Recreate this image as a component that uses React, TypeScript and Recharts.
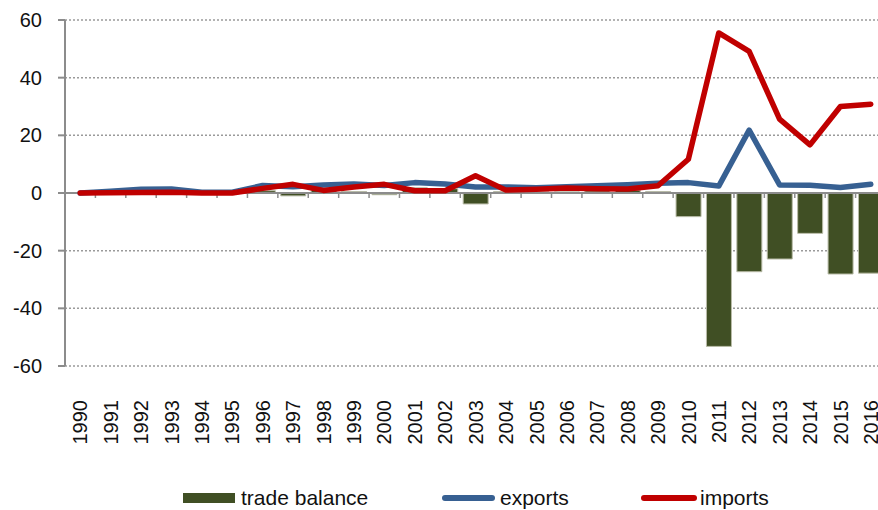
import React from "react";
import {
  ComposedChart,
  Bar,
  Line,
  XAxis,
  YAxis,
  CartesianGrid,
  ReferenceLine,
  Legend,
} from "recharts";

// years on the category axis
const years = [
  "1990", "1991", "1992", "1993", "1994", "1995", "1996", "1997", "1998",
  "1999", "2000", "2001", "2002", "2003", "2004", "2005", "2006", "2007",
  "2008", "2009", "2010", "2011", "2012", "2013", "2014", "2015", "2016",
];

const exportsValues = [
  0, 0.6, 1.3, 1.4, 0.3, 0.3, 2.6, 2.2, 2.8, 3.1, 2.6, 3.6, 3.1, 2.1, 2.1,
  1.8, 2.2, 2.5, 2.9, 3.4, 3.6, 2.4, 21.8, 2.8, 2.7, 1.9, 3.0,
];

const importsValues = [
  0, 0.1, 0.2, 0.3, 0, 0, 1.6, 3.0, 0.9, 2.1, 3.0, 0.8, 0.8, 6.0, 1.0, 1.3,
  1.7, 1.5, 1.4, 2.5, 11.7, 55.5, 49.1, 25.6, 16.7, 30.0, 30.8,
];

const balanceValues = [
  0, 0.4, 0.9, 0.9, 0.2, 0.2, 0.8, -1.0, 1.2, 0.5, -0.6, 1.8, 1.5, -3.8, 0.5,
  0.4, 0.4, 0.7, 1.0, 0.5, -8.2, -53.2, -27.3, -22.9, -14.0, -28.1, -27.8,
];

const yTicks = [-60, -40, -20, 0, 20, 40, 60];

const data = years.map((year, i) => ({
  year,
  balance: balanceValues[i],
  exports: exportsValues[i],
  imports: importsValues[i],
}));

const FONT = '"Liberation Sans", Arial, sans-serif';
const AXIS_GRAY = "#8c8c8c";

const BALANCE_COLOR = "#404f24";
const EXPORTS_COLOR = "#376092";
const IMPORTS_COLOR = "#c00000";

// rotated year labels below the plot
const YearTick = (props: any) => {
  const { x, y, payload } = props;
  const ty = y + 26;
  return (
    <text
      x={x}
      y={ty}
      dy="0.36em"
      transform={`rotate(-90, ${x}, ${ty})`}
      textAnchor="end"
      fontSize={20}
      fontFamily={FONT}
      fill="#111"
    >
      {payload.value}
    </text>
  );
};

// zero line with the small tick marks between categories
const ZeroAxis = (props: any) => {
  const { x1, y1, x2, y2 } = props;
  const step = (x2 - x1) / years.length;
  return (
    <g>
      <line x1={x1} y1={y1} x2={x2} y2={y2} stroke={AXIS_GRAY} strokeWidth={2} />
      {years.map((_, i) => (
        <line
          key={i}
          x1={x1 + step * (i + 1)}
          x2={x1 + step * (i + 1)}
          y1={y1}
          y2={y1 + 5}
          stroke={AXIS_GRAY}
          strokeWidth={1.5}
        />
      ))}
    </g>
  );
};

const legendText: React.CSSProperties = {
  position: "absolute",
  top: 0,
  lineHeight: "24px",
  fontSize: 21,
  fontFamily: FONT,
  color: "#111",
  whiteSpace: "nowrap",
};

const ChartLegend = () => (
  <div style={{ position: "relative", height: 24, width: "100%" }}>
    <div
      style={{
        position: "absolute",
        left: 183,
        top: 7,
        width: 52,
        height: 10,
        background: BALANCE_COLOR,
      }}
    />
    <span style={{ ...legendText, left: 241 }}>trade balance</span>
    <div
      style={{
        position: "absolute",
        left: 442,
        top: 9,
        width: 53,
        height: 6,
        borderRadius: 3,
        background: EXPORTS_COLOR,
      }}
    />
    <span style={{ ...legendText, left: 500 }}>exports</span>
    <div
      style={{
        position: "absolute",
        left: 641,
        top: 9,
        width: 56,
        height: 6,
        borderRadius: 3,
        background: IMPORTS_COLOR,
      }}
    />
    <span style={{ ...legendText, left: 700 }}>imports</span>
  </div>
);

export default function App() {
  return (
    <div
      style={{
        position: "absolute",
        left: 0,
        top: 0,
        width: 878,
        height: 510,
        overflow: "hidden",
        background: "#fff",
      }}
    >
      <ComposedChart
        width={900}
        height={510}
        data={data}
        margin={{ top: 20, right: 14, bottom: 0, left: 0 }}
        barCategoryGap="9.5%"
      >
        <CartesianGrid
          vertical={false}
          stroke="#9a9a9a"
          strokeDasharray="2 2"
          strokeWidth={1.5}
        />
        <XAxis
          dataKey="year"
          interval={0}
          axisLine={false}
          tickLine={false}
          height={120}
          tick={<YearTick />}
        />
        <YAxis
          domain={[-60, 60]}
          ticks={yTicks}
          width={65}
          interval={0}
          axisLine={{ stroke: AXIS_GRAY, strokeWidth: 2 }}
          tickLine={{ stroke: AXIS_GRAY, strokeWidth: 2 }}
          tickSize={7}
          tickMargin={16}
          tick={{ fill: "#111", fontSize: 20, fontFamily: FONT }}
        />
        <Legend verticalAlign="bottom" content={<ChartLegend />} />
        <Bar
          dataKey="balance"
          name="trade balance"
          fill={BALANCE_COLOR}
          stroke="#b9bca8"
          strokeWidth={1}
          isAnimationActive={false}
        />
        <ReferenceLine y={0} shape={ZeroAxis} />
        <Line
          dataKey="exports"
          name="exports"
          stroke={EXPORTS_COLOR}
          strokeWidth={5.5}
          strokeLinejoin="round"
          strokeLinecap="round"
          dot={false}
          activeDot={false}
          isAnimationActive={false}
        />
        <Line
          dataKey="imports"
          name="imports"
          stroke={IMPORTS_COLOR}
          strokeWidth={5.5}
          strokeLinejoin="round"
          strokeLinecap="round"
          dot={false}
          activeDot={false}
          isAnimationActive={false}
        />
      </ComposedChart>
    </div>
  );
}
